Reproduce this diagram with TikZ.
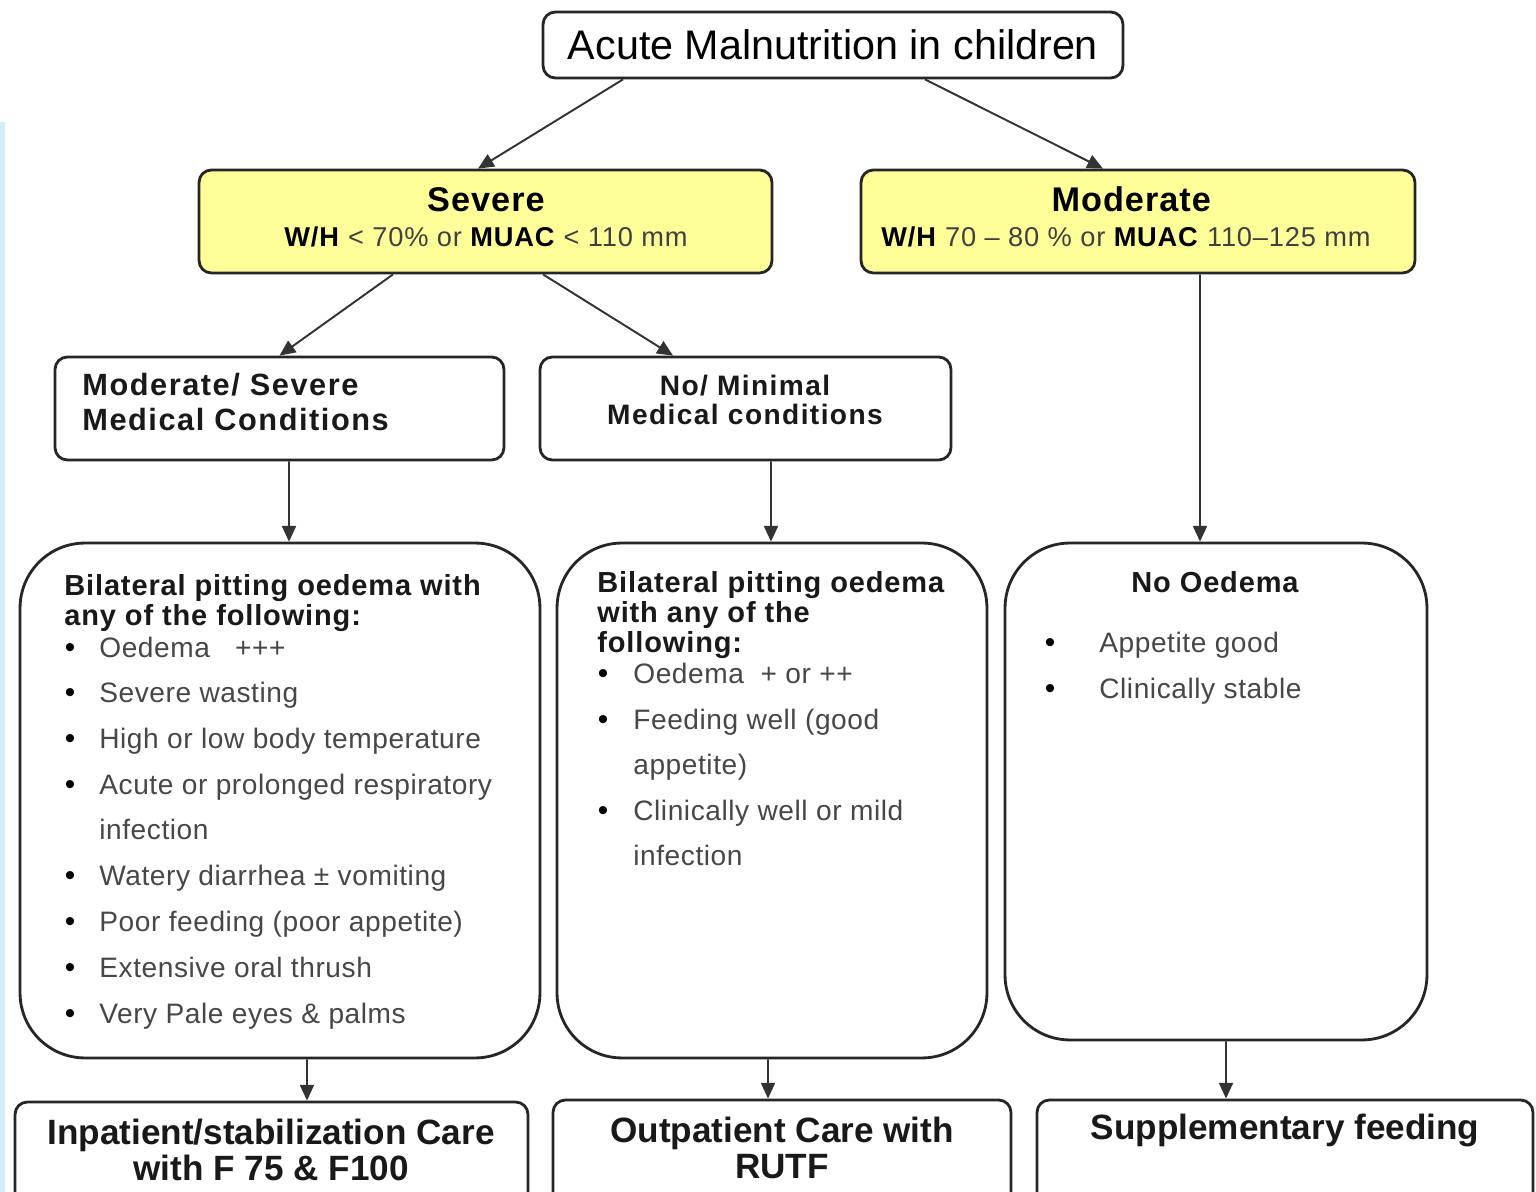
\documentclass[tikz,border=0pt]{standalone}
\usepackage{fontspec}
\setmainfont{Liberation Sans}
\usetikzlibrary{arrows.meta}

\definecolor{boxyellow}{HTML}{FFFF99}
\definecolor{edgeblue}{HTML}{D2ECF9}

\tikzset{
  box/.style={draw=black!85, line width=1.6pt, rounded corners=7pt, inner sep=0pt},
  bigbox/.style={box, rounded corners=1.3cm},
  arr/.style={-{Triangle[length=9pt,width=8pt]}, draw=black!80, line width=1.1pt},
  head/.style={inner sep=0pt, text=black!90, font=\bfseries\fontsize{16.5}{17}\selectfont\addfontfeature{LetterSpace=3}},
  body/.style={anchor=base west, inner sep=0pt, text=black!72, font=\fontsize{16}{18}\selectfont\addfontfeature{LetterSpace=2}},
  bul/.style={anchor=base, inner sep=0pt, font=\fontsize{17}{18}\selectfont},
  grade/.style={inner sep=0pt, align=center, font=\fontsize{15.5}{18}\selectfont\addfontfeature{LetterSpace=3}}
}

\begin{document}
\begin{tikzpicture}[x=0.02cm, y=-0.02cm]
\clip (0,0) rectangle (1536,1192);
\fill[white] (0,0) rectangle (1536,1192);
\fill[edgeblue] (0,122) rectangle (5,1192);

% top levels
\node[box, minimum width=11.6cm, minimum height=1.32cm, font=\fontsize{23.5}{26}\selectfont] (top) at (833,45) {Acute Malnutrition in children};
\node[box, fill=boxyellow, minimum width=11.46cm, minimum height=2.06cm] (sev) at (485.5,221.5) {};
\node[box, fill=boxyellow, minimum width=11.08cm, minimum height=2.06cm] (mod) at (1138,221.5) {};
\node[grade] (sevt) at (486,217)
  {{\bfseries\fontsize{19.5}{19}\selectfont Severe}\\[2pt]\textbf{W/H} {\color{black!75}< 70\% or} \textbf{MUAC} {\color{black!75}< 110 mm}};
\node[grade] (modt) at (1126,217)
  {\hspace*{6pt}{\bfseries\fontsize{19.5}{19}\selectfont Moderate}\\[2pt]\textbf{W/H} {\color{black!75}70 -- 80 \% or} \textbf{MUAC} {\color{black!75}110--125 mm}};

\node[box, minimum width=8.98cm, minimum height=2.06cm] (med1) at (279.5,408.5) {};
\node[head, anchor=west, align=left, font=\bfseries\fontsize{17.5}{19.5}\selectfont\addfontfeature{LetterSpace=5}] (med1t) at (82,402) {Moderate/ Severe\\Medical Conditions};
\node[box, minimum width=8.22cm, minimum height=2.06cm] (med2) at (745.5,408.5) {};
\node[head, align=center, font=\bfseries\fontsize{16}{16.5}\selectfont\addfontfeature{LetterSpace=5}] (med2t) at (745,400) {No/ Minimal\\Medical conditions};

% criteria boxes
\node[bigbox, minimum width=10.4cm, minimum height=10.3cm] (box1) at (280,800.5) {};
\node[bigbox, minimum width=8.6cm, minimum height=10.3cm] (box2) at (772,800.5) {};
\node[bigbox, minimum width=8.44cm, minimum height=9.94cm] (box3) at (1216,791.5) {};

\node[head, anchor=base west] (h1a) at (64,596) {Bilateral pitting oedema with};
\node[head, anchor=base west] (h1b) at (64,626) {any of the following:};
\foreach \n/\y/\t in {a/658/{Oedema \ \ +++}, b/703/{Severe wasting}, c/749/{High or low body temperature},
    d/795/{Acute or prolonged respiratory}, f/886/{Watery diarrhea ± vomiting}, g/931/{Poor feeding (poor appetite)},
    h/977/{Extensive oral thrush}, i/1023/{Very Pale eyes \& palms}} {
  \node[bul] (b1\n) at (70,\y) {\textbullet};
  \node[body] (t1\n) at (99,\y) {\t};
}
\node[body] (t1e) at (99,840) {infection};

\node[head, anchor=base west] (h2a) at (597,593) {Bilateral pitting oedema};
\node[head, anchor=base west] (h2b) at (597,623) {with any of the};
\node[head, anchor=base west] (h2c) at (597,653) {following:};
\foreach \n/\y/\t in {a/684/{Oedema \ + or ++}, b/730/{Feeding well (good}, d/821/{Clinically well or mild}} {
  \node[bul] (b2\n) at (603,\y) {\textbullet};
  \node[body] (t2\n) at (633,\y) {\t};
}
\node[body] (t2c) at (633,775) {appetite)};
\node[body] (t2e) at (633,866) {infection};

\node[head, anchor=base] (h3) at (1215,593) {No Oedema};
\foreach \n/\y/\t in {a/653/{Appetite good}, b/699/{Clinically stable}} {
  \node[bul] (b3\n) at (1050,\y) {\textbullet};
  \node[body] (t3\n) at (1099,\y) {\t};
}

% care boxes
\node[box, minimum width=10.26cm, minimum height=2.56cm] (out1) at (271.5,1166) {};
\node[box, minimum width=9.16cm, minimum height=2.6cm] (out2) at (782,1165) {};
\node[box, minimum width=9.92cm, minimum height=2.6cm] (out3) at (1285,1165) {};
\node[head, align=center, font=\bfseries\fontsize{20}{20}\selectfont] (out1t) at (271,1150) {Inpatient/stabilization Care\\with F 75 \& F100};
\node[head, align=center, font=\bfseries\fontsize{20}{20}\selectfont] (out2t) at (782,1148) {Outpatient Care with\\RUTF};
\node[head, align=center, font=\bfseries\fontsize{20}{20}\selectfont] (out3t) at (1285,1130) {Supplementary feeding};

% arrows
\draw[arr] ([xshift=-4.2cm]top.south) -- ([xshift=-0.15cm]sev.north);
\draw[arr] ([xshift=1.84cm]top.south) -- ([xshift=-0.7cm]mod.north);
\draw[arr] ([xshift=-1.85cm]sev.south) -- (med1.north);
\draw[arr] ([xshift=1.15cm]sev.south) -- ([xshift=-1.45cm]med2.north);
\draw[arr] ([xshift=1.24cm]mod.south) -- ([xshift=-0.32cm]box3.north);
\draw[arr] ([xshift=0.19cm]med1.south) -- ([xshift=0.18cm]box1.north);
\draw[arr] ([xshift=0.51cm]med2.south) -- ([xshift=-0.02cm]box2.north);
\draw[arr] ([xshift=0.54cm]box1.south) -- ([xshift=0.71cm]out1.north);
\draw[arr] ([xshift=-0.08cm]box2.south) -- ([xshift=-0.28cm]out2.north);
\draw[arr] ([xshift=0.2cm]box3.south) -- ([xshift=-1.18cm]out3.north);

\end{tikzpicture}
\end{document}
